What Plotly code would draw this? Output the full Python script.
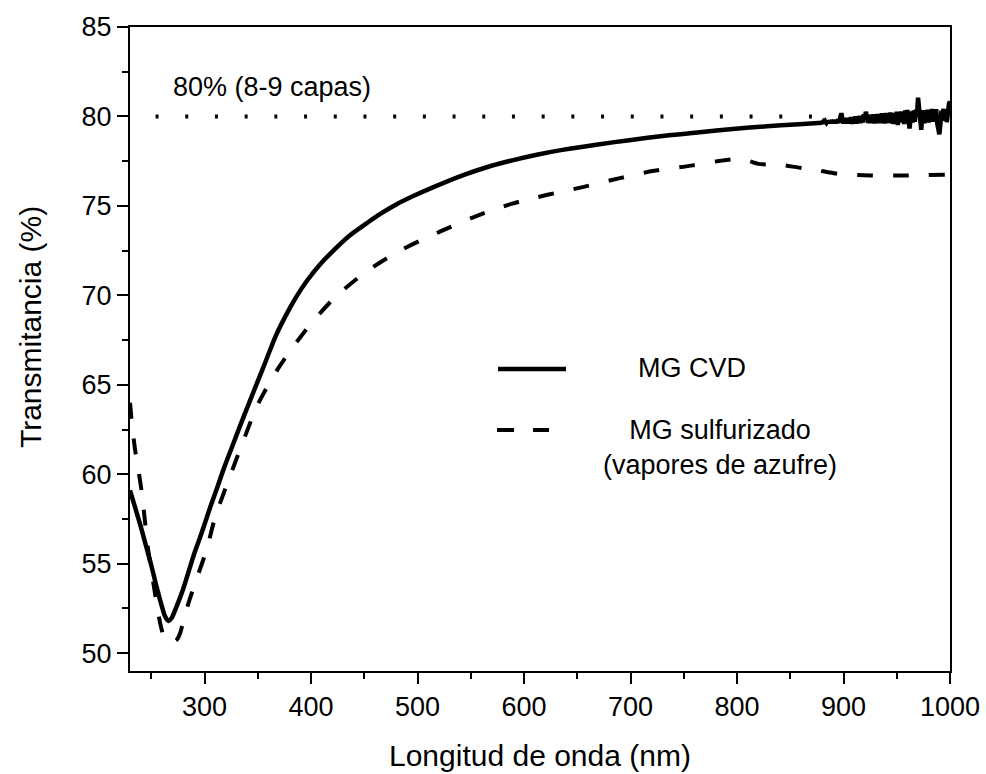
import plotly.graph_objects as go

# ---------------- data ----------------
cvd_x = [230, 235, 240, 245, 250, 255, 260, 263, 266, 269, 272, 276, 280, 285, 290, 296,
         300, 305, 311, 318, 325, 334, 343, 350, 358, 367, 377, 386, 396, 408, 421, 436,
         452, 465, 480, 496, 515, 543, 565, 590, 612, 636, 671, 697, 734, 765, 796, 828,
         858, 880]
cvd_y = [59.1, 58.1, 57.1, 56.0, 54.9, 53.7, 52.6, 52.05, 51.8, 51.95, 52.35, 52.95, 53.6,
         54.55, 55.5, 56.5, 57.2, 58.1, 59.1, 60.3, 61.4, 62.8, 64.16, 65.2, 66.4, 67.75,
         68.95, 69.9, 70.8, 71.7, 72.5, 73.33, 74.02, 74.55, 75.08, 75.55, 76.05, 76.72,
         77.16, 77.56, 77.86, 78.13, 78.45, 78.66, 78.93, 79.12, 79.30, 79.45, 79.57, 79.65]

# noisy tail of the CVD curve (880-1000 nm, 1 nm step)
tail_x = list(range(880, 1001))
tail_y = [79.66, 79.72, 79.62, 79.73, 79.64, 79.74, 79.63, 79.76, 79.66, 79.77,
          79.63, 79.80, 79.64, 79.78, 79.62, 79.85, 79.66, 79.95, 80.18, 79.82,
          79.62, 79.90, 79.64, 79.92, 79.60, 79.90, 79.66, 79.96, 79.58, 79.94,
          79.62, 80.00, 79.60, 79.98, 79.64, 80.04, 79.62, 80.00, 79.66, 80.12,
          79.92, 80.26, 79.98, 79.64, 80.06, 79.62, 80.08, 79.64, 80.12, 79.60,
          80.10, 79.64, 80.14, 79.62, 80.10, 79.66, 80.18, 79.62, 80.12, 79.60,
          80.20, 79.64, 80.16, 79.68, 80.22, 79.62, 80.14, 79.58, 80.20, 79.68,
          80.26, 79.52, 80.22, 79.66, 80.28, 79.72, 80.24, 79.58, 80.34, 79.78,
          80.36, 79.45, 79.32, 79.90, 80.28, 79.66, 80.34, 79.70, 80.38, 80.12,
          81.05, 80.45, 79.40, 79.25, 80.10, 80.34, 79.62, 80.30, 79.76, 80.38,
          79.66, 80.34, 79.84, 80.42, 79.70, 80.30, 79.80, 80.40, 79.62, 79.25,
          79.00, 79.60, 80.32, 80.05, 80.42, 79.76, 80.38, 79.68, 80.46, 80.70,
          80.85]

sulf_x = [230, 232, 234.7, 238, 241, 244, 247, 252, 256, 259, 262, 266, 270, 274, 277, 281,
          286, 294, 302, 310, 324, 336, 350, 369, 393, 421, 452, 482, 521, 554, 588, 622,
          655, 690, 722, 757, 790, 805, 820, 840, 858, 875, 891, 925, 958, 1000]
sulf_y = [64.0, 62.7, 61.4, 60.2, 59.0, 57.4, 55.8, 53.9, 52.4, 51.5, 50.9, 50.6, 50.6,
          50.75, 51.1, 52.0, 53.0, 54.4, 55.8, 57.6, 59.9, 61.8, 63.9, 65.9, 67.9, 69.8,
          71.33, 72.45, 73.56, 74.4, 75.11, 75.62, 76.05, 76.55, 76.96, 77.25, 77.57,
          77.62, 77.35, 77.3, 77.14, 77.0, 76.83, 76.7, 76.7, 76.75]

ref_x = [254, 1000]
ref_y = [80, 80]

x_ticks = [300, 400, 500, 600, 700, 800, 900, 1000]
y_ticks = [50, 55, 60, 65, 70, 75, 80, 85]

FONT = "Arial, Liberation Sans, sans-serif"

fig = go.Figure()

fig.add_trace(go.Scatter(x=ref_x, y=ref_y, mode="lines",
                         line=dict(color="black", width=4, dash="3px,26.7px"),
                         showlegend=False, hoverinfo="skip"))
fig.add_trace(go.Scatter(x=sulf_x, y=sulf_y, mode="lines", name="MG sulfurizado",
                         line=dict(color="black", width=4, dash="16px,20px",
                                   shape="spline", smoothing=0.8),
                         showlegend=False))
fig.add_trace(go.Scatter(x=cvd_x, y=cvd_y, mode="lines", name="MG CVD",
                         line=dict(color="black", width=4.5, shape="spline", smoothing=0.9),
                         showlegend=False))
fig.add_trace(go.Scatter(x=tail_x, y=tail_y, mode="lines",
                         line=dict(color="black", width=4.5),
                         showlegend=False, hoverinfo="skip"))

axis_common = dict(
    showline=True, linecolor="black", linewidth=2, mirror=True,
    ticks="outside", ticklen=11, tickwidth=2, tickcolor="black",
    showgrid=False, zeroline=False, automargin=False,
    tickfont=dict(family=FONT, size=27, color="black"),
)

fig.update_xaxes(range=[230, 1000], tickvals=x_ticks,
                 minor=dict(dtick=50, tick0=0, ticklen=6, tickwidth=2,
                            tickcolor="black", ticks="outside"),
                 **axis_common)
fig.update_yaxes(range=[49, 85], tickvals=y_ticks,
                 minor=dict(dtick=2.5, tick0=0, ticklen=6, tickwidth=2,
                            tickcolor="black", ticks="outside"),
                 **axis_common)

# custom legend
fig.add_shape(type="line", xref="paper", yref="paper", x0=0.4488, x1=0.5317,
              y0=0.469, y1=0.469, line=dict(color="black", width=4.5))
fig.add_shape(type="line", xref="paper", yref="paper", x0=0.4476, x1=0.5110,
              y0=0.3742, y1=0.3742, line=dict(color="black", width=4, dash="17px,19px"))

ann_font = dict(family=FONT, size=27, color="black")
fig.add_annotation(text="MG CVD", xref="paper", yref="paper", x=0.6854, y=0.4705,
                   xanchor="center", yanchor="middle", showarrow=False, font=ann_font)
fig.add_annotation(text="MG sulfurizado<br>(vapores de azufre)", xref="paper", yref="paper",
                   x=0.7195, y=0.347, xanchor="center", yanchor="middle", showarrow=False,
                   font=ann_font, align="center")
fig.add_annotation(text="80% (8-9 capas)", xref="paper", yref="paper", x=0.1732, y=0.9068,
                   xanchor="center", yanchor="middle", showarrow=False, font=ann_font)

# axis titles
fig.add_annotation(text="Longitud de onda (nm)", xref="paper", yref="paper", x=0.5, y=-0.131,
                   xanchor="center", yanchor="middle", showarrow=False,
                   font=dict(family=FONT, size=30, color="black"))
fig.add_annotation(text="Transmitancia (%)", xref="paper", yref="paper", x=-0.122, y=0.534,
                   xanchor="center", yanchor="middle", showarrow=False, textangle=-90,
                   font=dict(family=FONT, size=30, color="black"))

fig.update_layout(
    width=986, height=774,
    margin=dict(l=130, r=36, t=27, b=103),
    paper_bgcolor="white", plot_bgcolor="white",
    showlegend=False,
)

fig.write_html("out.html")
